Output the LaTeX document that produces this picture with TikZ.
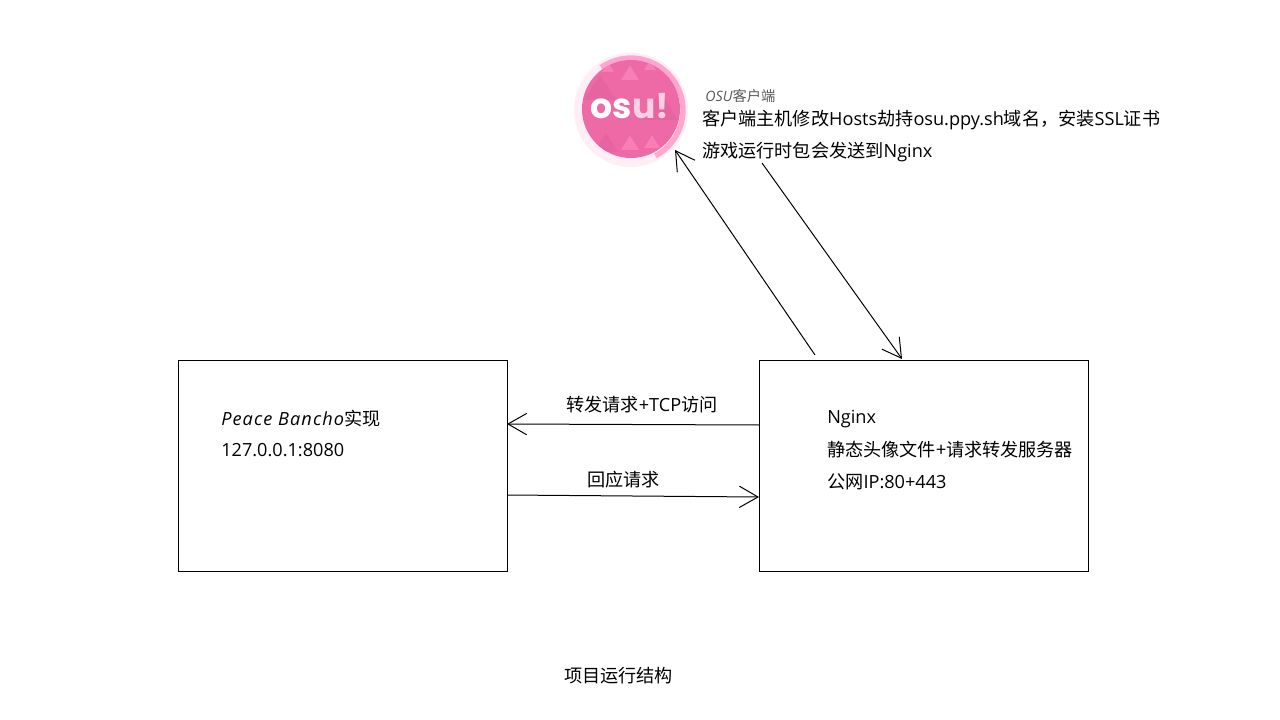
\documentclass[tikz,border=0pt]{standalone}
\usepackage{fontspec}
\setmainfont{Open Sans}
\newfontfamily\cjk{Noto Sans CJK SC}
\newfontfamily\logofont{Poppins}
\usetikzlibrary{arrows.meta}
\definecolor{osupink}{HTML}{EE6AA7}
\definecolor{osudark}{HTML}{E2609C}
\definecolor{osulight}{HTML}{FF8CBF}
\definecolor{osuring}{HTML}{FFA6CF}
\definecolor{osupale}{HTML}{FFEEF5}
\definecolor{osumark}{HTML}{FBCFE4}
\tikzset{
 lbl/.style={anchor=west, inner sep=0pt, text=black, font=\fontsize{13.6}{16}\selectfont},
 smalllbl/.style={anchor=west, inner sep=0pt, text=black!65, font=\fontsize{10.7}{12}\selectfont},
 hostbox/.style={draw=black, line width=0.75pt, minimum width=246.75pt, minimum height=158.25pt, inner sep=0pt, outer sep=0pt},
 link/.style={draw=black, line width=0.75pt, -{Straight Barb[length=14pt,width=16pt,line width=0.75pt]}}
}
\begin{document}
\begin{tikzpicture}[x=0.75pt, y=-0.75pt]
\useasboundingbox (0,0) rectangle (1280,720);
\fill[white] (0,0) rectangle (1280,720);

% osu logo
\fill[osupale] (631,110) circle [radius=57];
\draw[osuring, line width=4pt] (631,110) ++(62:52) arc (62:-125:52);
\node (logo) [circle, fill=osupink, minimum size=73.5pt, inner sep=0pt, outer sep=0pt] at (631,109) {};
\begin{scope}
\clip (631,109) circle [radius=49];
\foreach \tx/\ty/\ts/\tc in {630/80/9/osulight, 608/72/6/osulight, 650/70/6/osulight, 606/152/12/osudark, 660/120/18/osudark, 630/150/9/osulight, 652/148/8/osulight, 600/100/16/osudark}
 {
 \fill[\tc, opacity=0.6] (\tx-\ts,\ty) -- (\tx+\ts,\ty) -- (\tx,\ty-1.6*\ts) -- cycle;
 }
\end{scope}
\node (logotext) [inner sep=0pt, text=white, font=\logofont\bfseries\fontsize{26}{26}\selectfont] at (630,106) {os\textcolor{osumark}{u!}};

% boxes
\node (bancho) [hostbox] at (342.5,465.5) {};
\node (nginx) [hostbox] at (923.5,465.5) {};

% texts
\node (osutitle) [smalllbl] at (705,96) {\textit{OSU}{\cjk 客户端}};
\node (hosts) [lbl] at (702,120) {{\cjk 客户端主机修改}Hosts{\cjk 劫持}osu.ppy.sh{\cjk 域名，安装}SSL{\cjk 证书}};
\node (gamepkt) [lbl] at (702,152) {{\cjk 游戏运行时包会发送到}Nginx};
\node (banchoname) [lbl] at (221,419) {{\itshape\addfontfeatures{LetterSpace=6}Peace Bancho}{\cjk 实现}};
\node (banchoaddr) [lbl] at (221,450) {127.0.0.1:8080};
\node (nginxname) [lbl] at (827,419.5) {Nginx};
\node (nginxdesc) [lbl] at (827,450) {{\cjk 静态头像文件+请求转发服务器}};
\node (nginxaddr) [lbl] at (827,482) {{\cjk 公网}IP:80+443};
\node (fwdlabel) [lbl] at (566,405) {{\cjk 转发请求}+TCP{\cjk 访问}};
\node (resplabel) [lbl] at (587,480) {{\cjk 回应请求}};
\node (caption) [lbl] at (564,676) {{\cjk 项目运行结构}};

% connectors
\coordinate (upstart) at (815,355);
\coordinate (upend) at (675,150);
\coordinate (downstart) at (762,163);
\coordinate (downend) at (902,359);
\coordinate (fwdstart) at (nginx.west |- 0,425);
\coordinate (fwdend) at (bancho.east |- 0,424);
\coordinate (respstart) at (bancho.east |- 0,495);
\coordinate (respend) at (nginx.west |- 0,497);
\draw[link] (upstart) -- (upend);
\draw[link] (downstart) -- (downend);
\draw[link] (fwdstart) -- (fwdend);
\draw[link] (respstart) -- (respend);

\end{tikzpicture}
\end{document}
